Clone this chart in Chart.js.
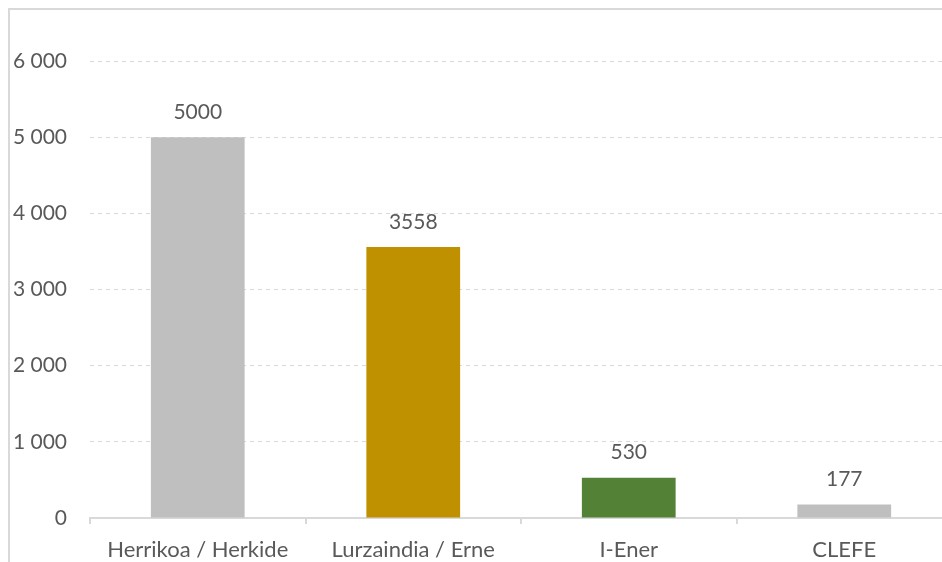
<!DOCTYPE html>
<html>
<head>
<meta charset="utf-8">
<script src="https://cdn.jsdelivr.net/npm/chart.js@4/dist/chart.umd.min.js"></script>
<style>
  html, body { margin: 0; padding: 0; background: #ffffff; overflow: hidden; width: 942px; height: 562px; }
  #frame { position: absolute; left: 8px; top: 8px; width: 2000px; height: 2000px;
           border-left: 2px solid #d9d9d9; border-top: 2px solid #d9d9d9; }
  #wrap { position: absolute; left: 0; top: 0; width: 960px; height: 562px; }
</style>
</head>
<body>
<div id="frame"></div>
<div id="wrap"><canvas id="c"></canvas></div>
<script>
const categories = ["Herrikoa / Herkide", "Lurzaindia / Erne", "I-Ener", "CLEFE"];
const values = [5000, 3558, 530, 177];
const barColors = ["#bfbfbf", "#bf9000", "#538135", "#bfbfbf"];
const yTicks = [0, 1000, 2000, 3000, 4000, 5000, 6000];

const textColor = "#595959";
const fontFamily = "Lato, 'Noto Sans', sans-serif";

function fmt(v) {
  return String(v).replace(/\B(?=(\d{3})+(?!\d))/g, " ");
}

const dataLabels = {
  id: "dataLabels",
  afterDatasetsDraw(chart) {
    const ctx = chart.ctx;
    const meta = chart.getDatasetMeta(0);
    ctx.save();
    ctx.font = "21px " + fontFamily;
    ctx.fillStyle = textColor;
    ctx.textAlign = "center";
    ctx.textBaseline = "middle";
    meta.data.forEach((bar, i) => {
      ctx.fillText(String(values[i]), bar.x, bar.y - 25);
    });
    ctx.restore();
  }
};

new Chart(document.getElementById("c"), {
  type: "bar",
  data: {
    labels: categories,
    datasets: [{
      data: values,
      backgroundColor: barColors,
      borderWidth: 0,
      categoryPercentage: 1,
      barPercentage: 0.435
    }]
  },
  options: {
    responsive: true,
    maintainAspectRatio: false,
    animation: false,
    layout: { padding: { left: 0, top: 61, right: 8, bottom: 0 } },
    plugins: { legend: { display: false }, tooltip: { enabled: false } },
    scales: {
      x: {
        afterFit(scale) { scale.height = 44; },
        grid: {
          display: true, drawOnChartArea: false, drawTicks: true,
          tickLength: 6, color: "#d9d9d9", lineWidth: 2, offset: true
        },
        border: { display: true, color: "#d9d9d9", width: 2 },
        ticks: { color: textColor, font: { family: fontFamily, size: 22 }, padding: 13, maxRotation: 0 }
      },
      y: {
        min: 0, max: 6000,
        afterFit(scale) { scale.width = 90; },
        afterBuildTicks(scale) { scale.ticks = yTicks.map(v => ({ value: v })); },
        grid: { color: "#d9d9d9", lineWidth: 1, drawTicks: false },
        border: { display: false, dash: [4, 4] },
        ticks: {
          color: textColor, font: { family: fontFamily, size: 21 }, padding: 23,
          callback: (v) => fmt(v)
        }
      }
    }
  },
  plugins: [dataLabels]
});
</script>
</body>
</html>
